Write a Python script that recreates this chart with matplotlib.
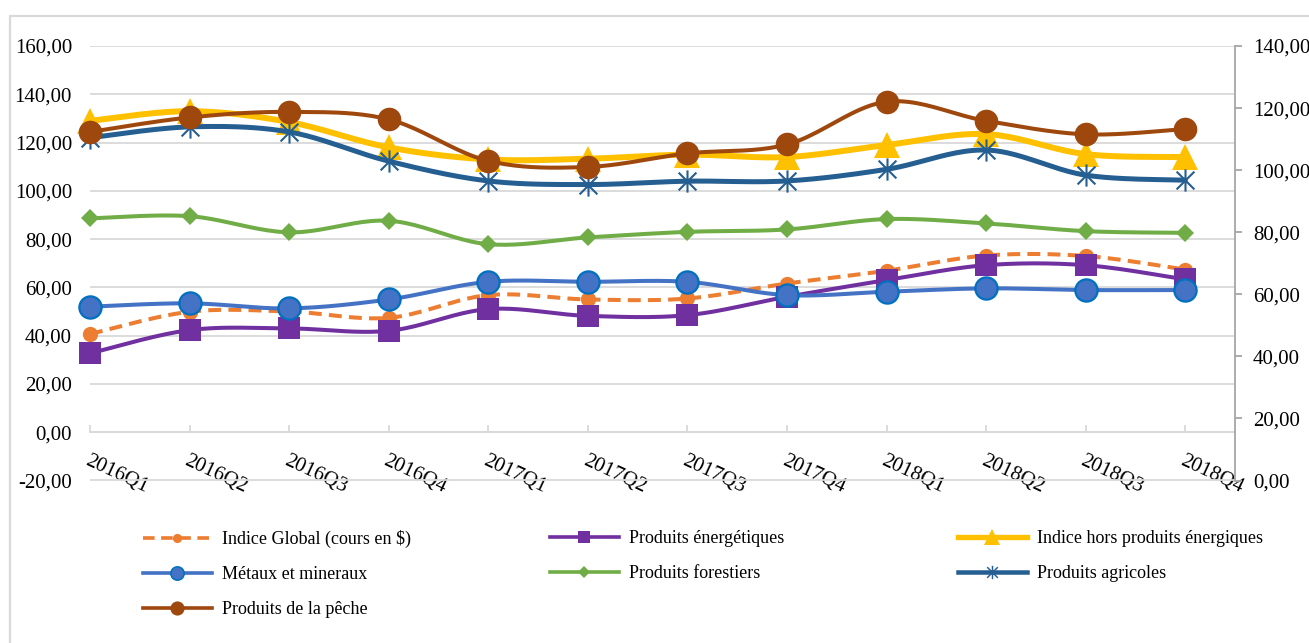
import numpy as np
import matplotlib
matplotlib.use("Agg")
import matplotlib.pyplot as plt
from matplotlib.lines import Line2D
from matplotlib.patches import Rectangle
from matplotlib.path import Path

plt.rcParams['font.family'] = ['Liberation Serif', 'DejaVu Serif']

trimestres = ['2016Q1', '2016Q2', '2016Q3', '2016Q4', '2017Q1', '2017Q2',
              '2017Q3', '2017Q4', '2018Q1', '2018Q2', '2018Q3', '2018Q4']

indice_global = [40.7, 49.9, 50.0, 47.4, 56.8, 55.0, 55.4, 61.6, 66.9, 73.2, 73.0, 67.4]
energetiques = [32.7, 42.3, 43.0, 42.0, 51.0, 48.2, 48.5, 56.1, 63.0, 69.2, 69.2, 63.3]
hors_energie = [129.0, 133.0, 128.5, 118.0, 113.0, 113.3, 115.0, 114.0, 119.0, 123.5, 115.2, 114.0]
metaux = [52.0, 53.4, 51.3, 55.0, 62.3, 62.3, 62.3, 56.8, 58.2, 59.6, 58.9, 58.9]
forestiers = [88.6, 89.5, 82.8, 87.6, 77.9, 80.7, 83.0, 84.0, 88.3, 86.5, 83.3, 82.6]
agricoles = [122.0, 126.5, 124.4, 112.3, 104.1, 102.6, 104.0, 104.1, 108.9, 116.9, 106.5, 104.4]
peche = [124.4, 130.4, 132.7, 129.6, 112.4, 109.9, 115.5, 119.2, 136.9, 129.0, 123.4, 125.6]

libelles = ['Indice Global (cours en $)', 'Produits énergétiques',
            'Indice hors produits énergiques', 'Métaux et mineraux',
            'Produits forestiers', 'Produits agricoles', 'Produits de la pêche']


def lisser(x, y, n=24):
    # courbe lissee facon tableur (Bezier a partir de Catmull-Rom)
    p = np.column_stack([x, y]).astype(float)
    p = np.vstack([p[0], p, p[-1]])
    t = np.linspace(0, 1, n)[:, None]
    out = []
    for i in range(1, len(p) - 2):
        p0, p1, p2, p3 = p[i - 1], p[i], p[i + 1], p[i + 2]
        c1 = p1 + (p2 - p0) / 6
        c2 = p2 - (p3 - p1) / 6
        b = ((1 - t) ** 3) * p1 + 3 * ((1 - t) ** 2) * t * c1 + 3 * (1 - t) * t ** 2 * c2 + t ** 3 * p2
        out.append(b if i == 1 else b[1:])
    out = np.vstack(out)
    return out[:, 0], out[:, 1]


# asterisque : trait vertical + croix
asterisque = Path([(0, -0.5), (0, 0.5), (-0.4, -0.4), (0.4, 0.4), (-0.4, 0.4), (0.4, -0.4)],
                  [Path.MOVETO, Path.LINETO, Path.MOVETO, Path.LINETO, Path.MOVETO, Path.LINETO])

series = [
    dict(y=indice_global, c='#ED7D31', lw=2.9, ls=(0, (3.2, 1.8)), m='o', ms=11, mfc='#ED7D31', mec='#ED7D31', mew=0),
    dict(y=energetiques, c='#7030A0', lw=2.9, ls='-', m='s', ms=15.5, mfc='#7030A0', mec='#7030A0', mew=0),
    dict(y=hors_energie, c='#FFC000', lw=4.3, ls='-', m='^', ms=19, mfc='#FFC000', mec='#FFC000', mew=0),
    dict(y=metaux, c='#4472C4', lw=2.9, ls='-', m='o', ms=16, mfc='#4472C4', mec='#0070C0', mew=1.6),
    dict(y=forestiers, c='#70AD47', lw=2.9, ls='-', m='D', ms=9.5, mfc='#70AD47', mec='#70AD47', mew=0),
    dict(y=agricoles, c='#255E91', lw=3.6, ls='-', m=asterisque, ms=16, mfc='none', mec='#255E91', mew=1.5),
    dict(y=peche, c='#9E480E', lw=2.9, ls='-', m='o', ms=17, mfc='#9E480E', mec='#9E480E', mew=0),
]

fig = plt.figure(figsize=(13.09, 6.43), dpi=100)
ax = fig.add_axes([90 / 1309, 1 - 480.5 / 643, (1235 - 90) / 1309, (480.5 - 46) / 643])

x = np.arange(len(trimestres))
z = 3
for s in series:
    xs, ys = lisser(x, s['y'])
    ax.plot(xs, ys, color=s['c'], lw=s['lw'], ls=s['ls'], solid_capstyle='round', zorder=z)
    ax.plot(x, s['y'], ls='none', marker=s['m'], ms=s['ms'], mfc=s['mfc'], mec=s['mec'],
            mew=s['mew'], zorder=z + 0.5, clip_on=False)
    z += 1

ax.set_xlim(0, 11.5)
ax.set_ylim(-20, 160)
yt = np.arange(-20, 161, 20)
ax.set_yticks(yt)
ax.set_yticklabels([f"{v:.2f}".replace('.', ',') for v in yt], fontsize=15)
ax.tick_params(axis='y', length=0, pad=13)
ax.grid(axis='y', color='#d9d9d9', lw=1.3)
ax.set_axisbelow(True)

for cote in ['left', 'top', 'right']:
    ax.spines[cote].set_visible(False)
ax.spines['bottom'].set_position(('data', 0))
ax.spines['bottom'].set_color('#d9d9d9')
ax.spines['bottom'].set_linewidth(1.3)
ax.spines['bottom'].set_bounds(0, 11.5)
ax.set_xticks(x)
ax.set_xticklabels(trimestres, fontsize=15)
ax.tick_params(axis='x', direction='in', length=5, color='#d9d9d9', width=1.3, pad=14)
for lab in ax.get_xticklabels():
    lab.set_rotation(-25)
    lab.set_ha('left')
    lab.set_va('top')
    lab.set_rotation_mode('anchor')

ax2 = ax.twinx()
ax2.set_ylim(0, 140)
yt2 = np.arange(0, 141, 20)
ax2.set_yticks(yt2)
ax2.set_yticklabels([f"{v:.2f}".replace('.', ',') for v in yt2], fontsize=15)
ax2.tick_params(axis='y', direction='out', length=5, color='#a6a6a6', width=1.3, pad=8)
for cote in ['left', 'top', 'bottom']:
    ax2.spines[cote].set_visible(False)
ax2.spines['right'].set_color('#a6a6a6')
ax2.spines['right'].set_linewidth(1.3)

# cadre du graphique
fig.add_artist(Rectangle((10 / 1309, -0.2), 1.5, 1.2 - 16 / 643, transform=fig.transFigure,
                         fill=False, ec='#d9d9d9', lw=1.6))

# legende en trois colonnes
poignees = []
for s in series:
    poignees.append(Line2D([], [], color=s['c'], lw=s['lw'] * 0.9, ls=s['ls'], marker=s['m'],
                           ms=s['ms'] * 0.6, mfc=s['mfc'], mec=s['mec'], mew=s['mew'] * 0.7))

colonnes = [([0, 3, 6], 143), ([1, 4], 550), ([2, 5], 958)]
for idx, xpix in colonnes:
    fig.legend([poignees[i] for i in idx], [libelles[i] for i in idx],
               loc='upper left', bbox_to_anchor=(xpix / 1309, 1 - 530 / 643),
               frameon=False, fontsize=13, handlelength=3.8, handletextpad=0.6,
               borderpad=0, borderaxespad=0, labelspacing=1.0)

fig.savefig('out.png', dpi=100)
